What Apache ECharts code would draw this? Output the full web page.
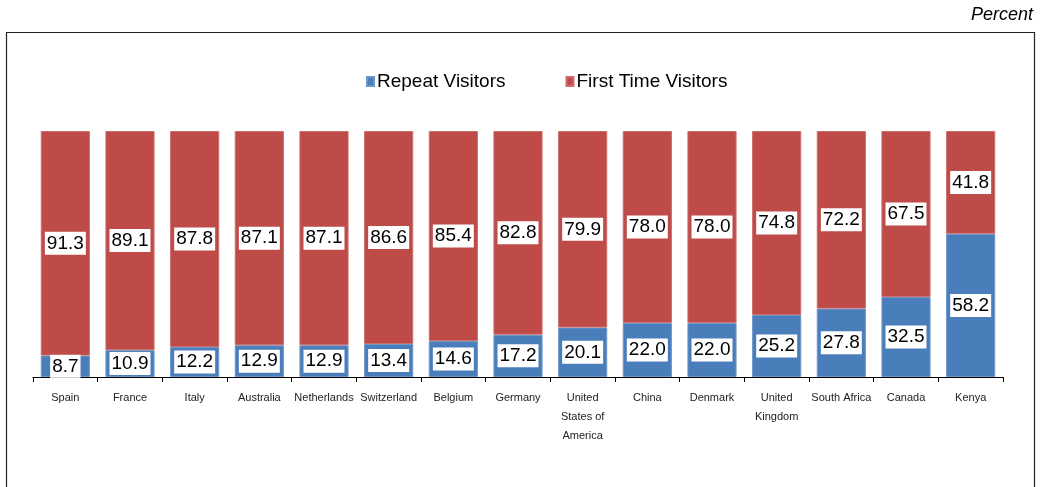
<!DOCTYPE html>
<html>
<head>
<meta charset="utf-8">
<script src="https://cdn.jsdelivr.net/npm/echarts@6/dist/echarts.min.js"></script>
<style>
  html, body { margin: 0; padding: 0; background: #fff; }
  #chart { width: 1045px; height: 487px; }
</style>
</head>
<body>
<div id="chart"></div>
<script>
var countries = ['Spain', 'France', 'Italy', 'Australia', 'Netherlands', 'Switzerland', 'Belgium', 'Germany',
    'United\nStates of\nAmerica', 'China', 'Denmark', 'United\nKingdom', 'South Africa', 'Canada', 'Kenya']
var repeatVisitors = [8.7, 10.9, 12.2, 12.9, 12.9, 13.4, 14.6, 17.2, 20.1, 22.0, 22.0, 25.2, 27.8, 32.5, 58.2]
var firstTimeVisitors = [91.3, 89.1, 87.8, 87.1, 87.1, 86.6, 85.4, 82.8, 79.9, 78.0, 78.0, 74.8, 72.2, 67.5, 41.8]

var narrow = "'Liberation Sans Narrow', 'Liberation Sans', Arial, sans-serif"

var echart = echarts.init(document.getElementById('chart'))

// white box labels in the middle of each segment
var boxLabel = {
    show: true,
    position: 'inside',
    color: '#000',
    backgroundColor: '#fff',
    fontFamily: narrow,
    fontSize: 19,
    padding: [3, 2, 1, 2],
    formatter: function (p) { return p.value.toFixed(1) }
}

var option = {
    backgroundColor: '#fff',
    animation: false,
    graphic: [
        { // frame round the chart
            type: 'rect',
            shape: { x: 6.5, y: 32.5, width: 1028, height: 480 },
            style: { fill: 'none', stroke: '#222', lineWidth: 1.2 }
        },
        {
            type: 'text',
            right: 12,
            top: 6,
            style: {
                text: 'Percent',
                fontFamily: "'Liberation Sans', Arial, sans-serif",
                fontStyle: 'italic',
                fontSize: 18,
                fill: '#000'
            }
        }
    ],
    legend: {
        top: 67,
        left: 361,
        itemWidth: 7,
        itemHeight: 9,
        itemGap: 60,
        icon: 'rect',
        textStyle: { fontFamily: narrow, fontSize: 19, color: '#000', padding: [0, 0, 0, -2] },
        data: ['Repeat Visitors', 'First Time Visitors']
    },
    grid: { left: 33, right: 42, top: 131, bottom: 110 },
    xAxis: {
        type: 'category',
        data: countries,
        axisLine: { lineStyle: { color: '#000', width: 1.2 } },
        axisTick: { show: true, length: 5, lineStyle: { color: '#000' } },
        axisLabel: {
            interval: 0,
            color: '#222',
            fontFamily: narrow,
            fontSize: 11,
            lineHeight: 19,
            margin: 11
        }
    },
    yAxis: {
        type: 'value',
        min: 0,
        max: 100,
        show: false
    },
    series: [
        {
            name: 'Repeat Visitors',
            type: 'bar',
            stack: 'all',
            barCategoryGap: '24%',
            data: repeatVisitors,
            itemStyle: { color: '#4A7EBB', borderColor: '#6E97C9', borderWidth: 1 },
            label: boxLabel
        },
        {
            name: 'First Time Visitors',
            type: 'bar',
            stack: 'all',
            data: firstTimeVisitors,
            itemStyle: { color: '#BE4B48', borderColor: '#CB6E6C', borderWidth: 1 },
            label: boxLabel
        }
    ]
}

echart.setOption(option)
</script>
</body>
</html>
